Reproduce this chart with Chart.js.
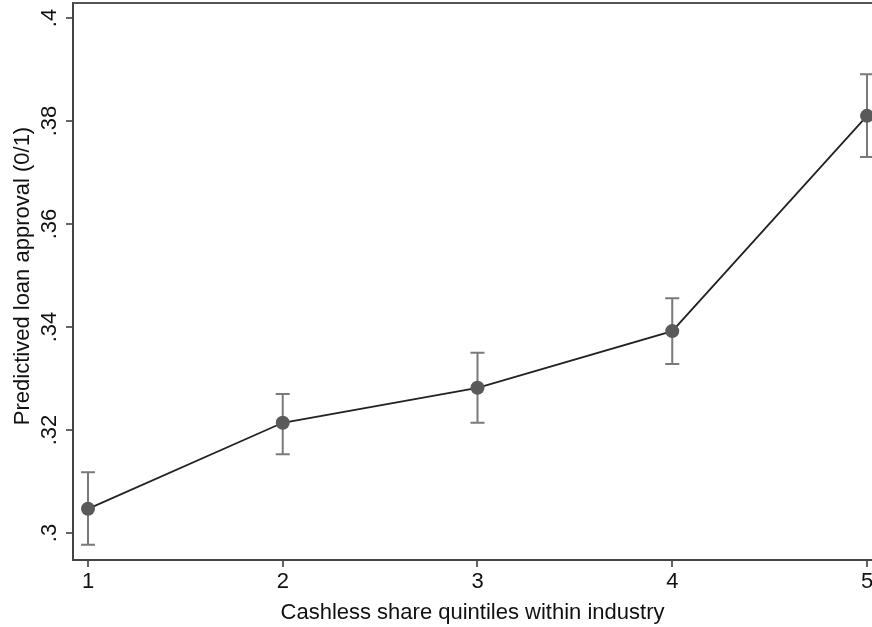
<!DOCTYPE html>
<html>
<head>
<meta charset="utf-8">
<script src="https://cdn.jsdelivr.net/npm/chart.js@4.4.1/dist/chart.umd.min.js"></script>
<style>
  body { margin: 0; background: #fff; }
  #wrap { width: 872px; height: 627px; }
</style>
</head>
<body>
<div id="wrap"><canvas id="grafico" width="872" height="627"></canvas></div>
<script>
// dados
const quintis = [1, 2, 3, 4, 5];
const previsto = [0.3047, 0.3214, 0.3282, 0.3392, 0.3810];
const icInferior = [0.2977, 0.3153, 0.3214, 0.3328, 0.3730];
const icSuperior = [0.3118, 0.3270, 0.3350, 0.3456, 0.3891];
const ticksX = [1, 2, 3, 4, 5];
const ticksY = [0.3, 0.32, 0.34, 0.36, 0.38, 0.4];
const rotulosY = [".3", ".32", ".34", ".36", ".38", ".4"];

const fonte = "'Liberation Sans', Arial, Helvetica, sans-serif";

// barras de erro, borda de cima, rótulos do eixo y
const extras = {
  id: "extras",
  beforeDatasetsDraw(chart) {
    const { ctx, scales: { x, y } } = chart;
    ctx.save();
    ctx.strokeStyle = "#7a7a7a";
    ctx.lineWidth = 2;
    quintis.forEach((q, i) => {
      const px = x.getPixelForValue(q);
      const y1 = y.getPixelForValue(icInferior[i]);
      const y2 = y.getPixelForValue(icSuperior[i]);
      ctx.beginPath();
      ctx.moveTo(px, y1); ctx.lineTo(px, y2);
      ctx.moveTo(px - 7, y1); ctx.lineTo(px + 7, y1);
      ctx.moveTo(px - 7, y2); ctx.lineTo(px + 7, y2);
      ctx.stroke();
    });
    ctx.restore();
  },
  afterDraw(chart) {
    const { ctx, chartArea, scales: { y } } = chart;
    ctx.save();
    // borda superior
    ctx.strokeStyle = "#555";
    ctx.lineWidth = 2;
    ctx.beginPath();
    ctx.moveTo(chartArea.left, chartArea.top);
    ctx.lineTo(chartArea.right, chartArea.top);
    ctx.stroke();

    ctx.fillStyle = "#111";
    ctx.font = "22px " + fonte;
    ctx.textAlign = "center";
    ctx.textBaseline = "alphabetic";
    ticksY.forEach((v, i) => {
      const py = y.getPixelForValue(v);
      ctx.save();
      ctx.translate(56, py);
      ctx.rotate(-Math.PI / 2);
      ctx.fillText(rotulosY[i], 0, 0);
      ctx.restore();
    });

    ctx.save();
    ctx.translate(29, 276);
    ctx.rotate(-Math.PI / 2);
    ctx.fillText("Predictived loan approval (0/1)", 0, 0);
    ctx.restore();
    ctx.restore();
  }
};

new Chart(document.getElementById("grafico"), {
  type: "line",
  data: {
    datasets: [{
      data: quintis.map((q, i) => ({ x: q, y: previsto[i] })),
      borderColor: "#222",
      borderWidth: 1.8,
      pointRadius: 7,
      pointBackgroundColor: "#5a5a5a",
      pointBorderColor: "#5a5a5a",
      pointBorderWidth: 0,
      tension: 0,
      clip: false
    }]
  },
  options: {
    responsive: false,
    animation: false,
    events: [],
    layout: { autoPadding: false, padding: { top: 3, right: 0, left: 0, bottom: 0 } },
    plugins: { legend: { display: false }, tooltip: { enabled: false } },
    scales: {
      x: {
        type: "linear",
        min: 0.923,
        max: 5.0257,
        afterBuildTicks: s => { s.ticks = ticksX.map(v => ({ value: v })); },
        afterFit: s => { s.height = 67; s.paddingLeft = 0; s.paddingRight = 0; },
        grid: { drawOnChartArea: false, drawTicks: true, tickLength: 7, color: "#666", lineWidth: 2 },
        border: { display: true, color: "#444", width: 2 },
        ticks: { color: "#111", font: { size: 22, family: fonte }, padding: 2, maxRotation: 0 },
        title: {
          display: true,
          text: "Cashless share quintiles within industry",
          color: "#111",
          font: { size: 22, family: fonte },
          padding: { top: 0, bottom: 1 }
        }
      },
      y: {
        min: 0.29476,
        max: 0.40291,
        afterBuildTicks: s => { s.ticks = ticksY.map(v => ({ value: v })); },
        afterFit: s => { s.width = 73; s.paddingTop = 0; s.paddingBottom = 0; },
        grid: { drawOnChartArea: false, drawTicks: true, tickLength: 7, color: "#666", lineWidth: 2 },
        border: { display: true, color: "#444", width: 2 },
        ticks: { display: false }
      }
    }
  },
  plugins: [extras]
});
</script>
</body>
</html>
